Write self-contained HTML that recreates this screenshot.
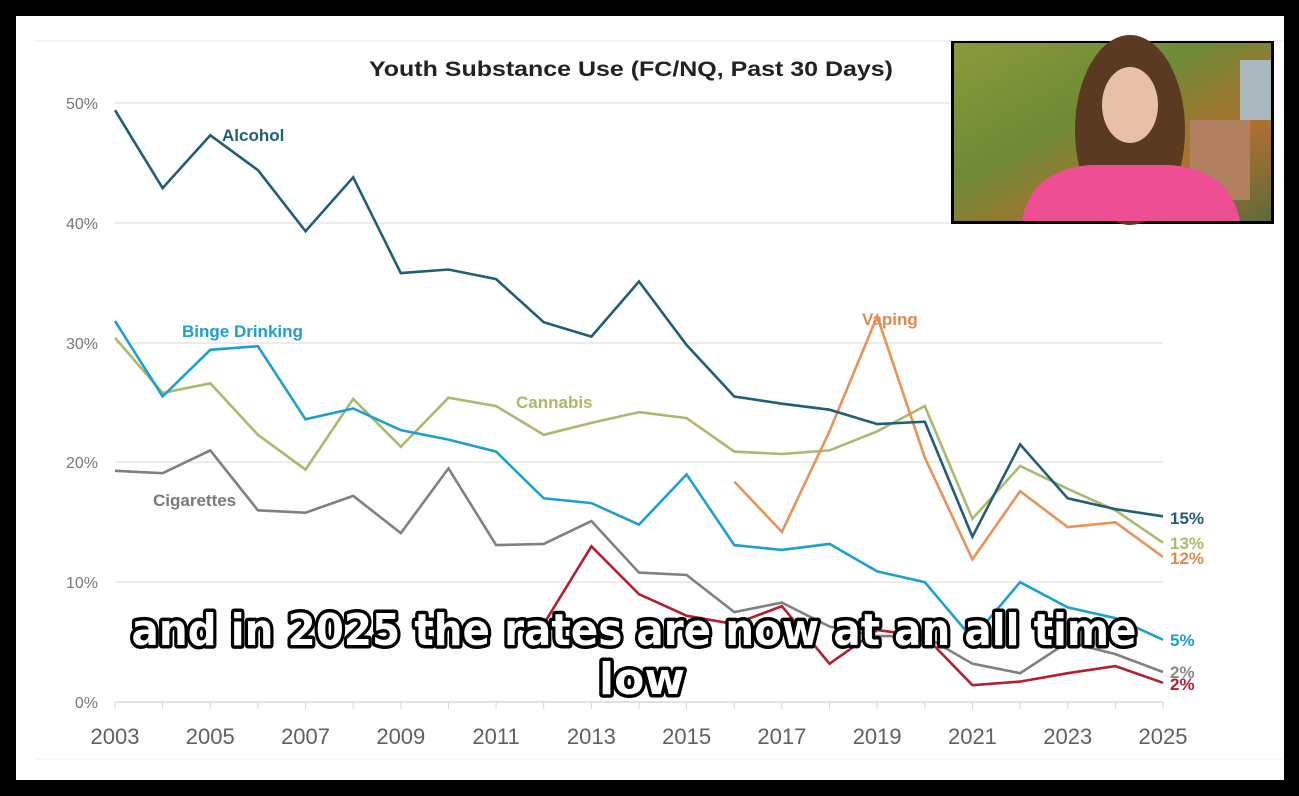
<!DOCTYPE html>
<html><head><meta charset="utf-8"><style>
html,body{margin:0;padding:0;background:#000;}
svg{display:block}
</style></head><body>
<svg width="1299" height="796" viewBox="0 0 1299 796" xmlns="http://www.w3.org/2000/svg" font-family="Liberation Sans, sans-serif">
<rect x="0" y="0" width="1299" height="796" fill="#000"/>
<rect x="16" y="16" width="1268" height="764" fill="#fff"/>
<line x1="35" y1="41" x2="1283" y2="41" stroke="#e6e6e6" stroke-width="1"/>
<line x1="35" y1="759" x2="1283" y2="759" stroke="#ececec" stroke-width="1"/>
<text x="631" y="76" text-anchor="middle" font-size="21" font-weight="bold" fill="#222" textLength="524" lengthAdjust="spacingAndGlyphs">Youth Substance Use (FC/NQ, Past 30 Days)</text>
<g stroke="#e0e0e0" stroke-width="1.2">
<line x1="115" y1="103" x2="1163" y2="103"/>
<line x1="115" y1="223" x2="1163" y2="223"/>
<line x1="115" y1="343" x2="1163" y2="343"/>
<line x1="115" y1="462" x2="1163" y2="462"/>
<line x1="115" y1="582" x2="1163" y2="582"/>
<line x1="115" y1="702" x2="1163" y2="702" stroke="#cfcfcf"/>
</g>
<g stroke="#d6d6d6" stroke-width="1" id="ticks"></g>
<g font-size="16" fill="#777" text-anchor="end">
<text x="98" y="109">50%</text><text x="98" y="229">40%</text><text x="98" y="349">30%</text>
<text x="98" y="468">20%</text><text x="98" y="588">10%</text><text x="98" y="708">0%</text>
</g>
<g font-size="22" fill="#606060" text-anchor="middle" id="xl"></g>
<g fill="none" stroke-width="2.6" stroke-linejoin="miter" id="lines"></g>
<g font-size="17" font-weight="bold">
<text x="222" y="141" fill="#215f74">Alcohol</text>
<text x="182" y="337" fill="#1ea0cf">Binge Drinking</text>
<text x="516" y="408" fill="#a9b968">Cannabis</text>
<text x="153" y="506" fill="#7a7a7a">Cigarettes</text>
<text x="862" y="325" fill="#e08a50">Vaping</text>
<text x="1170" y="524" fill="#215f74">15%</text>
<text x="1170" y="549" fill="#a9b968">13%</text>
<text x="1170" y="564" fill="#e08a50">12%</text>
<text x="1170" y="646" fill="#1ea0cf">5%</text>
<text x="1170" y="678" fill="#8a8a8a">2%</text>
<text x="1170" y="690" fill="#b22030">2%</text>
</g>
<defs><linearGradient id="ph" x1="0" y1="0" x2="1" y2="1">
<stop offset="0" stop-color="#8a9a3a"/><stop offset="0.4" stop-color="#6e8a36"/><stop offset="0.7" stop-color="#b0702e"/><stop offset="1" stop-color="#5d6a3a"/></linearGradient></defs>
<rect x="951" y="41" width="323" height="183" fill="#000"/>
<rect x="954" y="43" width="317" height="178" fill="url(#ph)"/>
<rect x="1190" y="120" width="60" height="80" fill="#b08060"/>
<rect x="1240" y="60" width="31" height="60" fill="#aab8c0"/>
<ellipse cx="1130" cy="130" rx="55" ry="95" fill="#5a3a20"/>
<ellipse cx="1130" cy="105" rx="28" ry="38" fill="#e8c0a8"/>
<path d="M1022 221 Q1030 170 1090 165 L1170 165 Q1230 170 1240 221 Z" fill="#ee4f93"/>
<g font-size="44" font-weight="bold" text-anchor="middle" fill="#fff" stroke="#000" stroke-width="7" paint-order="stroke" stroke-linejoin="round" font-family="DejaVu Sans, Liberation Sans, sans-serif">
<text x="634" y="645" textLength="1005" lengthAdjust="spacingAndGlyphs">and in 2025 the rates are now at an all time</text>
<text x="642" y="694">low</text>
</g>
<script>
(function(){
var ns="http://www.w3.org/2000/svg";
function X(yr){return 115+(yr-2003)*47.636;}
function Y(v){return 702-11.98*v;}
var xl=document.getElementById('xl');
for(var y=2003;y<=2025;y+=2){var t=document.createElementNS(ns,'text');t.setAttribute('x',X(y));t.setAttribute('y',744);t.textContent=y;xl.appendChild(t);}
var tk=document.getElementById('ticks');
for(var y=2003;y<=2025;y++){var l=document.createElementNS(ns,'line');l.setAttribute('x1',X(y));l.setAttribute('x2',X(y));l.setAttribute('y1',702);l.setAttribute('y2',709);tk.appendChild(l);}
var S=[
["#808080",2003,[19.3,19.1,21,16,15.8,17.2,14.1,19.5,13.1,13.2,15.1,10.8,10.6,7.5,8.3,6.3,5.5,5.5,3.2,2.4,5,4,2.5]],
["#b22030",2012,[6.5,13,9,7.2,6.5,8,3.2,6,5.5,1.4,1.7,2.4,3,1.6]],
["#a9ba6e",2003,[30.4,25.8,26.6,22.3,19.4,25.3,21.3,25.4,24.7,22.3,23.3,24.2,23.7,20.9,20.7,21,22.6,24.7,15.3,19.7,17.8,16,13.3]],
["#e8935a",2016,[18.4,14.2,22.6,32.2,20.4,11.9,17.6,14.6,15,12.1]],
["#1ea0cf",2003,[31.8,25.5,29.4,29.7,23.6,24.5,22.7,21.9,20.9,17,16.6,14.8,19,13.1,12.7,13.2,10.9,10,5.3,10,7.9,7,5.2]],
["#215f74",2003,[49.4,42.9,47.3,44.4,39.3,43.8,35.8,36.1,35.3,31.7,30.5,35.1,29.8,25.5,24.9,24.4,23.2,23.4,13.8,21.5,17,16.1,15.5]]
];
var g=document.getElementById('lines');
S.forEach(function(s){var p=s[2].map(function(v,i){return X(s[1]+i).toFixed(1)+","+Y(v).toFixed(1);}).join(" ");
var pl=document.createElementNS(ns,'polyline');pl.setAttribute('points',p);pl.setAttribute('stroke',s[0]);g.appendChild(pl);});
})();
</script>
</svg>
</body></html>
